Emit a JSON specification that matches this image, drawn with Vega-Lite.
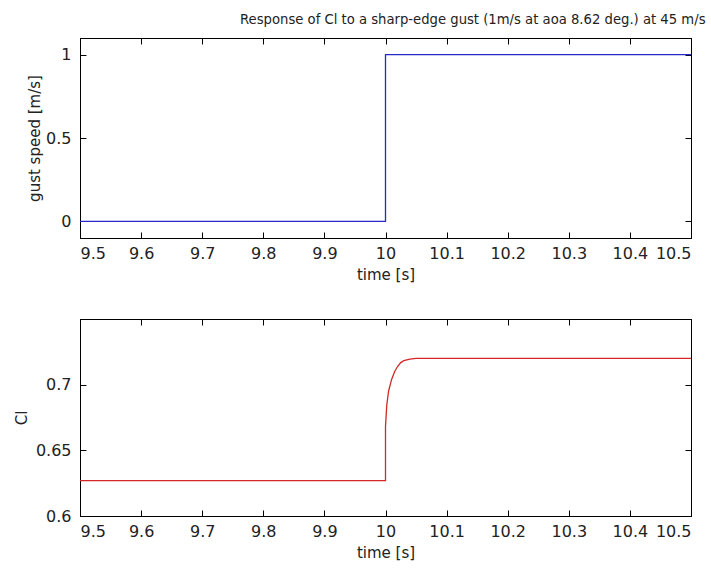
{
  "$schema": "https://vega.github.io/schema/vega-lite/v6.json",
  "background": "white",
  "padding": {"left": 13, "top": 12, "right": 20, "bottom": 5},
  "datasets": {
    "gust": [
      {"t": 9.5, "v": 0, "o": 1},
      {"t": 10.0, "v": 0, "o": 2},
      {"t": 10.0, "v": 1, "o": 3},
      {"t": 10.5, "v": 1, "o": 4}
    ],
    "cl": [
      {"t": 9.5, "v": 0.627, "o": 1},
      {"t": 10.0, "v": 0.627, "o": 2},
      {"t": 10.0, "v": 0.668, "o": 3},
      {"t": 10.002, "v": 0.684, "o": 4},
      {"t": 10.005, "v": 0.695, "o": 5},
      {"t": 10.01, "v": 0.704, "o": 6},
      {"t": 10.015, "v": 0.71, "o": 7},
      {"t": 10.02, "v": 0.714, "o": 8},
      {"t": 10.025, "v": 0.7168, "o": 9},
      {"t": 10.03, "v": 0.7183, "o": 10},
      {"t": 10.04, "v": 0.7195, "o": 11},
      {"t": 10.05, "v": 0.72, "o": 12},
      {"t": 10.5, "v": 0.72, "o": 13}
    ]
  },
  "config": {
    "font": "DejaVu Sans",
    "view": {"stroke": "black", "strokeWidth": 1},
    "axis": {
      "grid": false,
      "domainColor": "black",
      "tickColor": "black",
      "labelColor": "#222",
      "titleColor": "#222",
      "labelFont": "DejaVu Sans",
      "titleFont": "DejaVu Sans",
      "labelFontSize": 16,
      "titleFontSize": 15,
      "titleFontWeight": "normal",
      "tickSize": -6
    },
    "axisX": {"labelPadding": 13, "titlePadding": 6},
    "axisY": {"labelPadding": 15}
  },
  "vconcat": [
    {
      "width": 611,
      "height": 200,
      "title": {
        "text": "Response of Cl to a sharp-edge gust (1m/s at aoa 8.62 deg.) at 45 m/s",
        "anchor": "end",
        "dx": 14,
        "offset": 10,
        "fontSize": 13.2,
        "fontWeight": "normal",
        "color": "#222",
        "font": "DejaVu Sans"
      },
      "data": {"name": "gust"},
      "layer": [
        {
          "mark": {"type": "line", "color": "#2828c8", "strokeWidth": 1.3, "clip": true},
          "encoding": {
            "x": {"field": "t", "type": "quantitative", "scale": {"domain": [9.5, 10.5], "nice": false, "zero": false},
              "axis": {"title": "time [s]", "values": [9.5, 9.6, 9.7, 9.8, 9.9, 10, 10.1, 10.2, 10.3, 10.4, 10.5], "format": "~g"}},
            "y": {"field": "v", "type": "quantitative", "scale": {"domain": [-0.1, 1.1], "nice": false, "zero": false},
              "axis": {"title": "gust speed [m/s]", "values": [0, 0.5, 1], "format": "~g", "titlePadding": 3}},
            "order": {"field": "o"}
          }
        },
        {
          "mark": {"type": "line", "strokeOpacity": 0},
          "encoding": {
            "x": {"field": "t", "type": "quantitative", "axis": {"orient": "top", "title": null, "labels": false, "values": [9.5, 9.6, 9.7, 9.8, 9.9, 10, 10.1, 10.2, 10.3, 10.4, 10.5]}},
            "y": {"field": "v", "type": "quantitative", "axis": {"orient": "right", "title": null, "labels": false, "values": [0, 0.5, 1]}},
            "order": {"field": "o"}
          }
        }
      ],
      "resolve": {"axis": {"x": "independent", "y": "independent"}}
    },
    {
      "width": 611,
      "height": 197,
      "data": {"name": "cl"},
      "layer": [
        {
          "mark": {"type": "line", "color": "#d42828", "strokeWidth": 1.3, "clip": true},
          "encoding": {
            "x": {"field": "t", "type": "quantitative", "scale": {"domain": [9.5, 10.5], "nice": false, "zero": false},
              "axis": {"title": "time [s]", "values": [9.5, 9.6, 9.7, 9.8, 9.9, 10, 10.1, 10.2, 10.3, 10.4, 10.5], "format": "~g"}},
            "y": {"field": "v", "type": "quantitative", "scale": {"domain": [0.6, 0.75], "nice": false, "zero": false},
              "axis": {"title": "Cl", "values": [0.6, 0.65, 0.7], "format": "~g", "titlePadding": 6}},
            "order": {"field": "o"}
          }
        },
        {
          "mark": {"type": "line", "strokeOpacity": 0},
          "encoding": {
            "x": {"field": "t", "type": "quantitative", "axis": {"orient": "top", "title": null, "labels": false, "values": [9.5, 9.6, 9.7, 9.8, 9.9, 10, 10.1, 10.2, 10.3, 10.4, 10.5]}},
            "y": {"field": "v", "type": "quantitative", "axis": {"orient": "right", "title": null, "labels": false, "values": [0.6, 0.65, 0.7]}},
            "order": {"field": "o"}
          }
        }
      ],
      "resolve": {"axis": {"x": "independent", "y": "independent"}}
    }
  ],
  "spacing": 35
}
